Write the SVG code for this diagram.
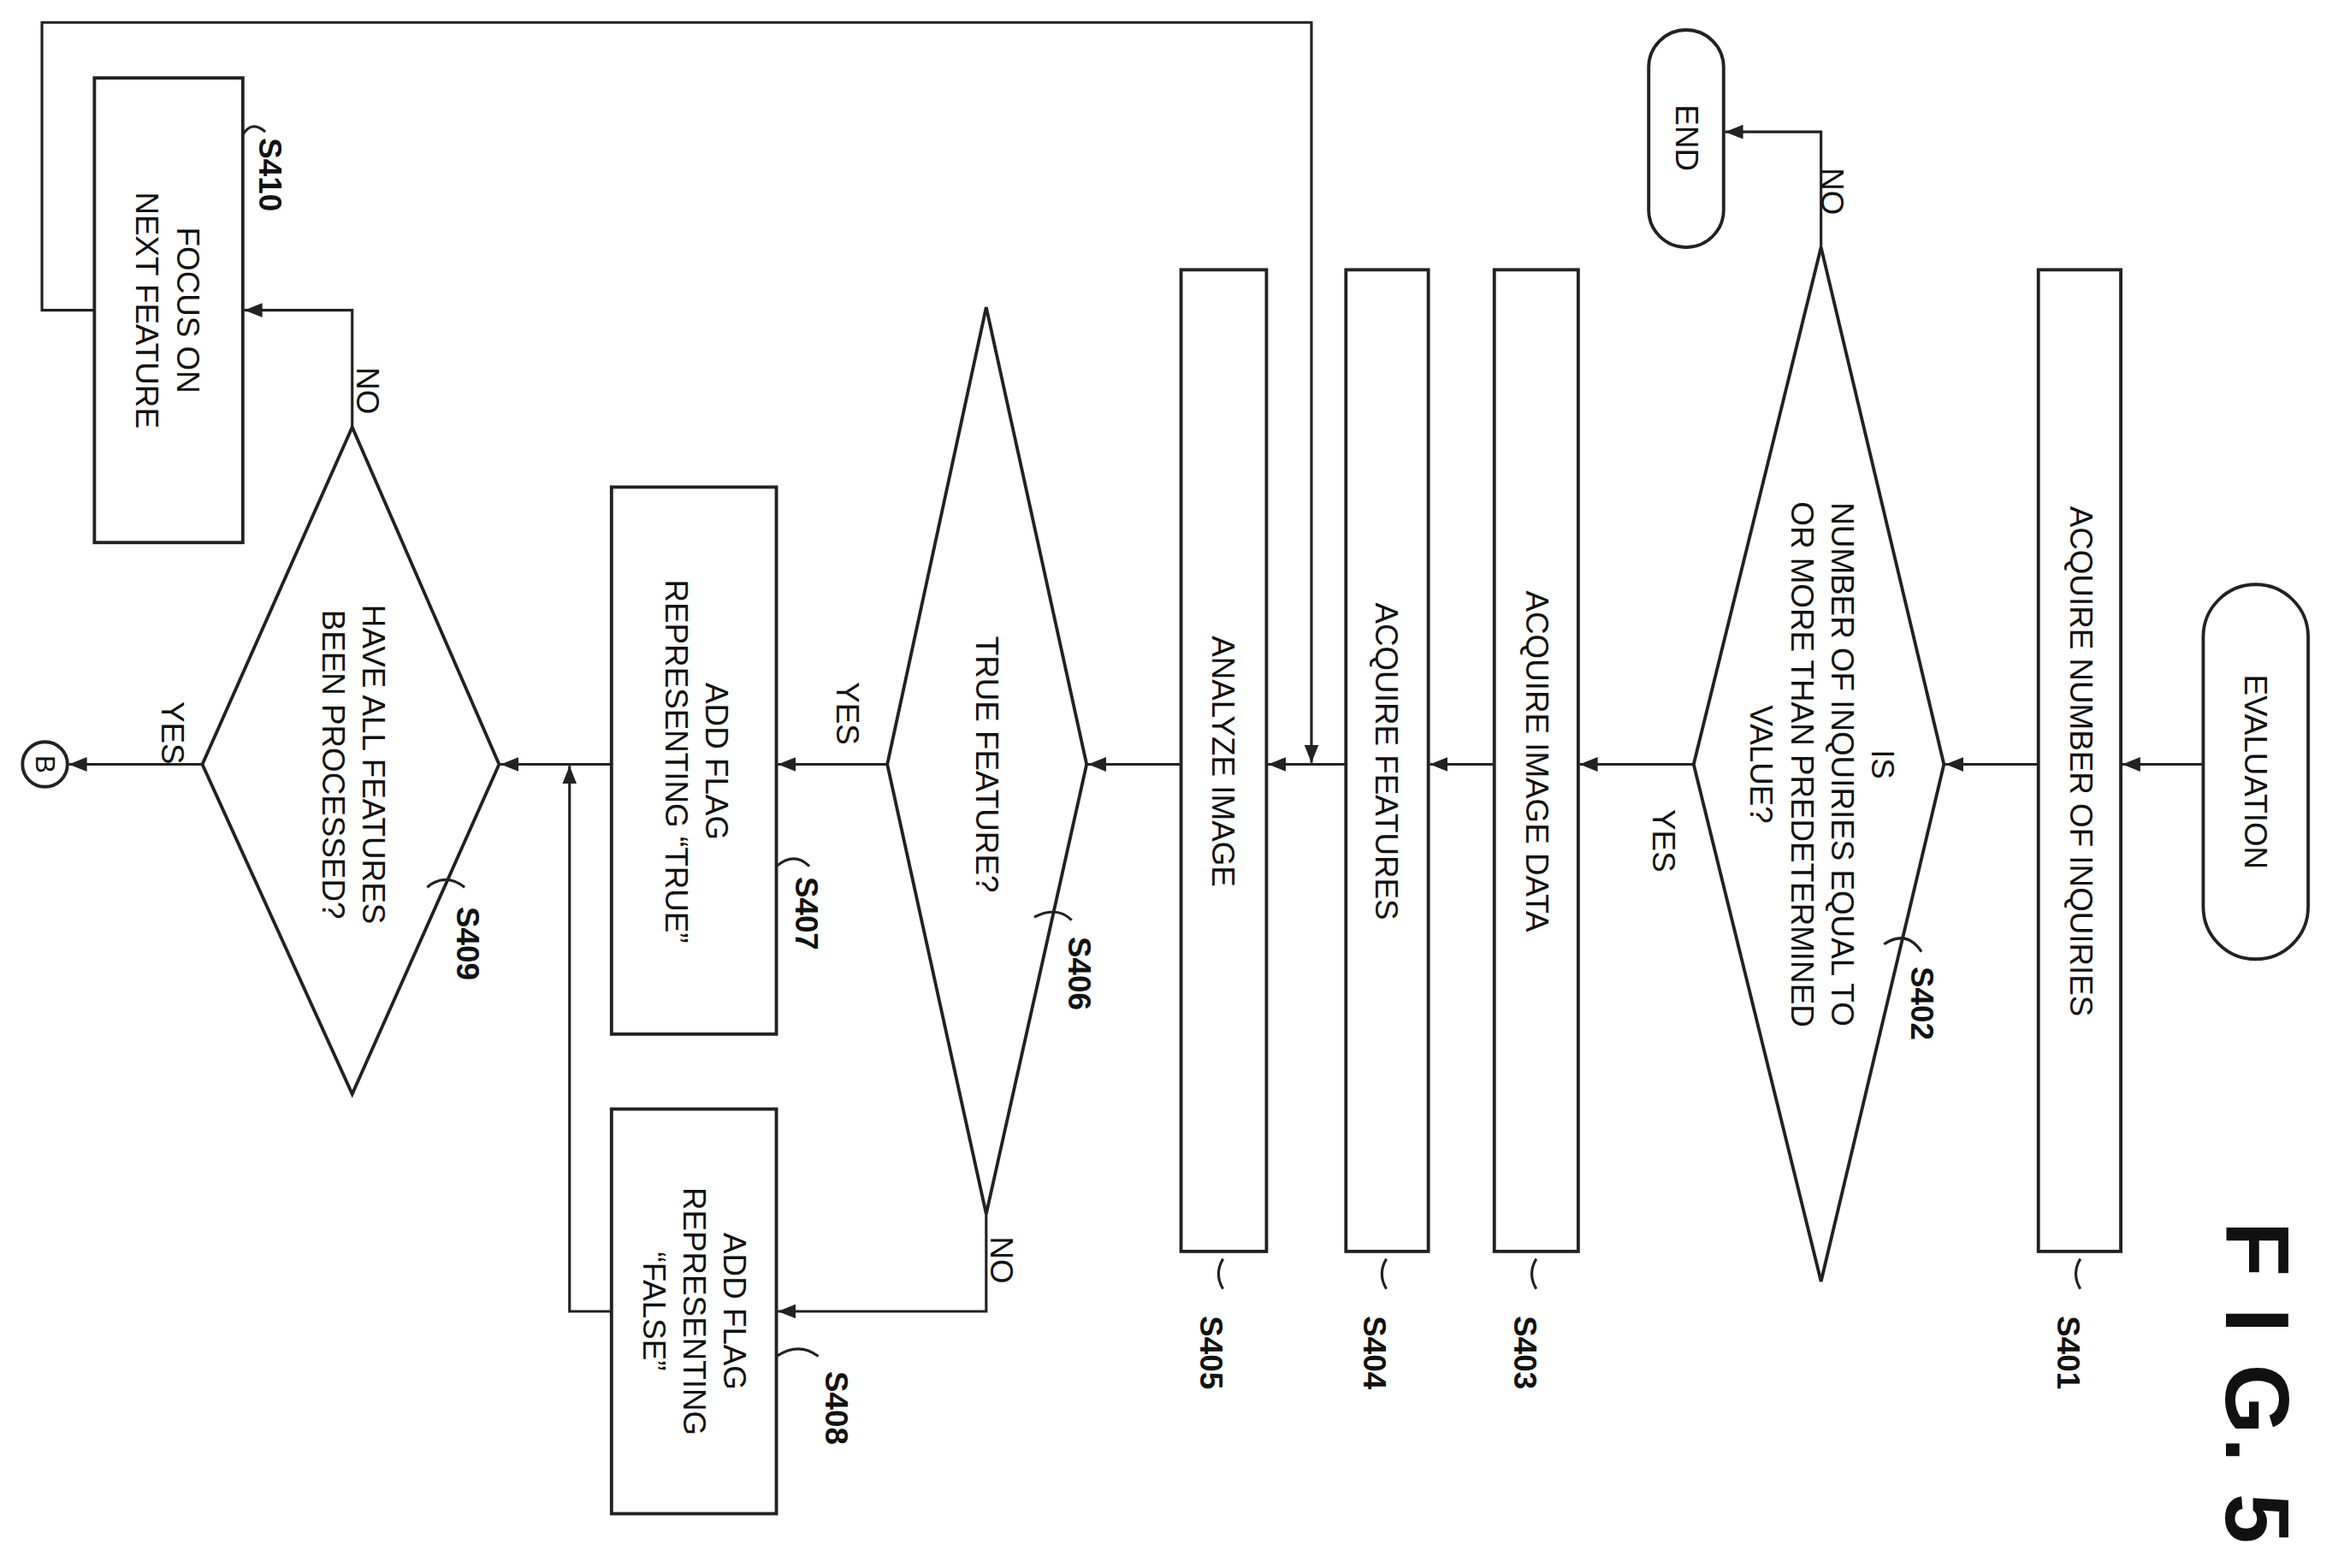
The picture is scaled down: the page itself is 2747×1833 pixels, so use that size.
<svg xmlns="http://www.w3.org/2000/svg" width="2747" height="1833" viewBox="0 0 2747 1833">
<style>
.s{fill:none;stroke:#222;stroke-width:2.2}
.c{fill:none;stroke:#222;stroke-width:1.8}
text{font-family:"Liberation Sans",Arial,sans-serif;fill:#111;font-size:21px}
.t{text-anchor:middle}
.l{font-weight:bold;font-size:21px}
.fig{font-size:60px;font-weight:bold}
.bb{font-size:18px}
</style>
<defs>
<marker id="a" viewBox="0 0 10 10" refX="10" refY="5" markerWidth="12" markerHeight="12" markerUnits="userSpaceOnUse" orient="auto"><path d="M0,1 L10,5 L0,9 z" fill="#222"/></marker>
</defs>
<rect width="2747" height="1833" fill="#fff"/>
<g transform="scale(1.752)">
<g id="evaluation"><rect class="s" x="1470" y="390" width="70" height="250" rx="35"/><text class="t" transform="translate(1505 515) rotate(90)" dy="7">EVALUATION</text></g>
<g id="s401"><rect class="s" x="1360" y="180" width="55" height="655"/><text class="t" transform="translate(1388 508) rotate(90)" dy="7">ACQUIRE NUMBER OF INQUIRIES</text><text class="l" transform="translate(1380 878) rotate(90)" dy="7">S401</text><path class="c" d="M1388,840 q-6,10 0,20"/></g>
<g id="s402"><polygon class="s" points="1215,165 1297,510 1215,855 1130,510"/>
<text class="t" transform="translate(1216 510) rotate(90)"><tspan x="0" y="-33">IS</tspan><tspan x="0" y="-6">NUMBER OF INQUIRIES EQUAL TO</tspan><tspan x="0" y="21">OR MORE THAN PREDETERMINED</tspan><tspan x="0" y="48">VALUE?</tspan></text>
<text class="l" transform="translate(1282 645) rotate(90)" dy="7">S402</text><path class="c" d="M1257,630 q15,-10 25,5"/></g>
<g id="end"><rect class="s" x="1100" y="20" width="50" height="145" rx="25"/><text class="t" transform="translate(1125 92) rotate(90)" dy="7">END</text></g>
<g id="s403"><rect class="s" x="997" y="180" width="56" height="655"/><text class="t" transform="translate(1025 508) rotate(90)" dy="7">ACQUIRE IMAGE DATA</text><text class="l" transform="translate(1017 878) rotate(90)" dy="7">S403</text><path class="c" d="M1025,840 q-6,10 0,20"/></g>
<g id="s404"><rect class="s" x="898" y="180" width="55" height="655"/><text class="t" transform="translate(925 508) rotate(90)" dy="7">ACQUIRE FEATURES</text><text class="l" transform="translate(917 878) rotate(90)" dy="7">S404</text><path class="c" d="M925,840 q-6,10 0,20"/></g>
<g id="s405"><rect class="s" x="788" y="180" width="57" height="655"/><text class="t" transform="translate(816 508) rotate(90)" dy="7">ANALYZE IMAGE</text><text class="l" transform="translate(808 878) rotate(90)" dy="7">S405</text><path class="c" d="M816,840 q-6,10 0,20"/></g>
<g id="s406"><polygon class="s" points="658,205 725,510 658,810 592,510"/><text class="t" transform="translate(658 510) rotate(90)" dy="7">TRUE FEATURE?</text><text class="l" transform="translate(720 625) rotate(90)" dy="7">S406</text><path class="c" d="M690,612 q15,-8 25,2"/></g>
<g id="s407"><rect class="s" x="408" y="325" width="110" height="365"/><text class="t" transform="translate(465 508) rotate(90)"><tspan x="0" y="-6">ADD FLAG</tspan><tspan x="0" y="21">REPRESENTING “TRUE”</tspan></text><text class="l" transform="translate(538 585) rotate(90)" dy="7">S407</text><path class="c" d="M518,578 q12,-10 22,0"/></g>
<g id="s408"><rect class="s" x="408" y="740" width="110" height="270"/><text class="t" transform="translate(463 875) rotate(90)"><tspan x="0" y="-20">ADD FLAG</tspan><tspan x="0" y="7">REPRESENTING</tspan><tspan x="0" y="34">“FALSE”</tspan></text><text class="l" transform="translate(558 915) rotate(90)" dy="7">S408</text><path class="c" d="M518,905 q15,-10 28,0"/></g>
<g id="s409"><polygon class="s" points="235,285 333,510 235,730 135,510"/><text class="t" transform="translate(236 510) rotate(90)"><tspan x="0" y="-6">HAVE ALL FEATURES</tspan><tspan x="0" y="21">BEEN PROCESSED?</tspan></text><text class="l" transform="translate(312 605) rotate(90)" dy="7">S409</text><path class="c" d="M285,592 q12,-10 25,0"/></g>
<g id="s410"><rect class="s" x="63" y="52" width="99" height="310"/><text class="t" transform="translate(112 207) rotate(90)"><tspan x="0" y="-6">FOCUS ON</tspan><tspan x="0" y="21">NEXT FEATURE</tspan></text><text class="l" transform="translate(180 92) rotate(90)" dy="7">S410</text><path class="c" d="M162,90 q6,-10 15,-2"/></g>
<g id="b"><circle class="s" cx="30" cy="510" r="15"/><text class="t bb" transform="translate(30 510) rotate(90)" dy="6">B</text></g>
<g id="connectors">
<path class="c" marker-end="url(#a)" d="M1470,510 H1416"/>
<path class="c" marker-end="url(#a)" d="M1360,510 H1298"/>
<path class="c" marker-end="url(#a)" d="M1130,510 H1054"/>
<path class="c" marker-end="url(#a)" d="M997,510 H954"/>
<path class="c" marker-end="url(#a)" d="M898,510 H846"/>
<path class="c" marker-end="url(#a)" d="M788,510 H726"/>
<path class="c" marker-end="url(#a)" d="M592,510 H519"/>
<path class="c" marker-end="url(#a)" d="M408,510 H334"/>
<path class="c" marker-end="url(#a)" d="M135,510 H46"/>
<path class="c" marker-end="url(#a)" d="M1215,165 V88 H1151"/>
<path class="c" marker-end="url(#a)" d="M658,810 V875 H519"/>
<path class="c" marker-end="url(#a)" d="M408,875 H380 V511"/>
<path class="c" marker-end="url(#a)" d="M235,285 V207 H163"/>
<path class="c" marker-end="url(#a)" d="M63,207 H28 V15 H875 V509"/>
</g>
<text transform="translate(1110 540) rotate(90)" dy="7">YES</text>
<text transform="translate(1222 112) rotate(90)" dy="7">NO</text>
<text transform="translate(565 455) rotate(90)" dy="7">YES</text>
<text transform="translate(668 825) rotate(90)" dy="7">NO</text>
<text transform="translate(245 245) rotate(90)" dy="7">NO</text>
<text transform="translate(115 468) rotate(90)" dy="7">YES</text>
<text class="fig" transform="translate(1505 815) rotate(90)" dy="20" textLength="215" lengthAdjust="spacing">F I G. 5</text>
</g>
</svg>
